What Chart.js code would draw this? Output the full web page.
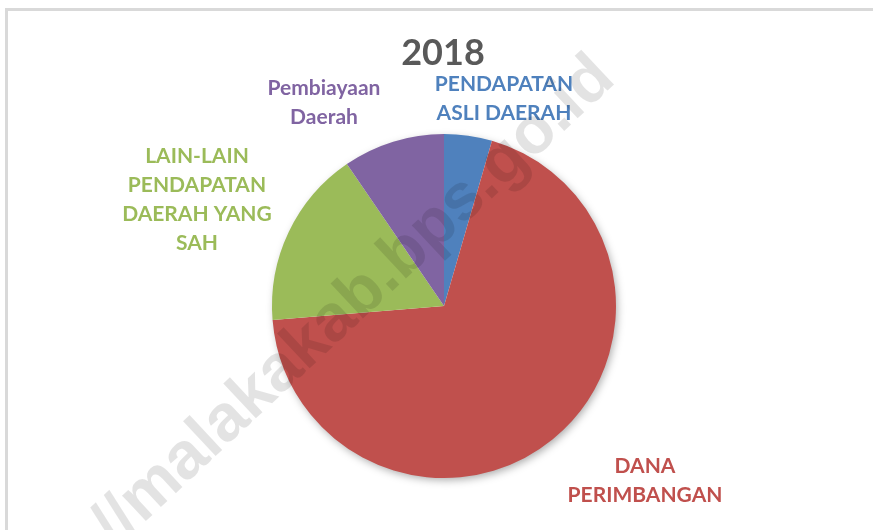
<!DOCTYPE html>
<html>
<head>
<meta charset="utf-8">
<script src="https://cdn.jsdelivr.net/npm/chart.js@4.4.0/dist/chart.umd.min.js"></script>
<style>
  html, body { margin: 0; padding: 0; background: #fff; }
  #wrap { position: relative; width: 873px; height: 530px; }
</style>
</head>
<body>
<div id="wrap"><canvas id="pieChart" width="873" height="530"></canvas></div>
<script>
// data (shares, in %)
const categories = ['PENDAPATAN ASLI DAERAH', 'DANA PERIMBANGAN', 'LAIN-LAIN PENDAPATAN DAERAH YANG SAH', 'Pembiayaan Daerah'];
const values = [4.5, 69.2, 16.75, 9.55];
const colors = ['#4f81bd', '#c0504d', '#9bbb59', '#8064a2'];
const title = '2018';

// label lines and where they sit (center x, baseline of first line)
const labelLines = [
  ['PENDAPATAN', 'ASLI DAERAH'],
  ['DANA', 'PERIMBANGAN'],
  ['LAIN-LAIN', 'PENDAPATAN', 'DAERAH YANG', 'SAH'],
  ['Pembiayaan', 'Daerah']
];
const labelAt = [[504, 91], [645, 473], [197, 163], [324, 95]];
const lineGap = 29;

const extras = {
  id: 'extras',
  beforeDatasetsDraw(chart) {
    const ctx = chart.ctx;
    const arc = chart.getDatasetMeta(0).data[0];
    // frame
    ctx.save();
    ctx.strokeStyle = '#d9d9d9';
    ctx.lineWidth = 3;
    ctx.strokeRect(6.5, 9.5, 900, 600);
    ctx.restore();
    // soft shadow under the pie
    ctx.save();
    ctx.shadowColor = 'rgba(0,0,0,0.35)';
    ctx.shadowBlur = 8;
    ctx.shadowOffsetX = 2;
    ctx.shadowOffsetY = 3;
    ctx.fillStyle = '#fff';
    ctx.beginPath();
    ctx.arc(arc.x, arc.y, arc.outerRadius - 1, 0, Math.PI * 2);
    ctx.fill();
    ctx.restore();
  },
  afterDraw(chart) {
    const ctx = chart.ctx;
    ctx.save();
    ctx.textAlign = 'center';
    ctx.textBaseline = 'alphabetic';
    ctx.fillStyle = '#595959';
    ctx.font = 'bold 36px Lato';
    ctx.fillText(title, 443, 65);
    ctx.font = 'bold 21px Lato';
    labelLines.forEach((lines, i) => {
      ctx.fillStyle = colors[i];
      lines.forEach((t, j) => {
        ctx.fillText(t, labelAt[i][0], labelAt[i][1] + j * lineGap);
      });
    });
    // watermark
    ctx.translate(354, 302);
    ctx.rotate(-43 * Math.PI / 180);
    ctx.font = 'bold 66px "Liberation Sans"';
    ctx.textBaseline = 'middle';
    ctx.fillStyle = 'rgba(0,0,0,0.11)';
    ctx.fillText('//malakakab.bps.go.id', 0, 0);
    ctx.restore();
  }
};

new Chart(document.getElementById('pieChart'), {
  type: 'pie',
  data: {
    labels: categories,
    datasets: [{
      data: values,
      backgroundColor: colors,
      borderWidth: 0
    }]
  },
  options: {
    responsive: false,
    animation: false,
    layout: { padding: { top: 134, bottom: 52, left: 272, right: 257 } },
    plugins: {
      legend: { display: false },
      tooltip: { enabled: false }
    }
  },
  plugins: [extras]
});
</script>
</body>
</html>
